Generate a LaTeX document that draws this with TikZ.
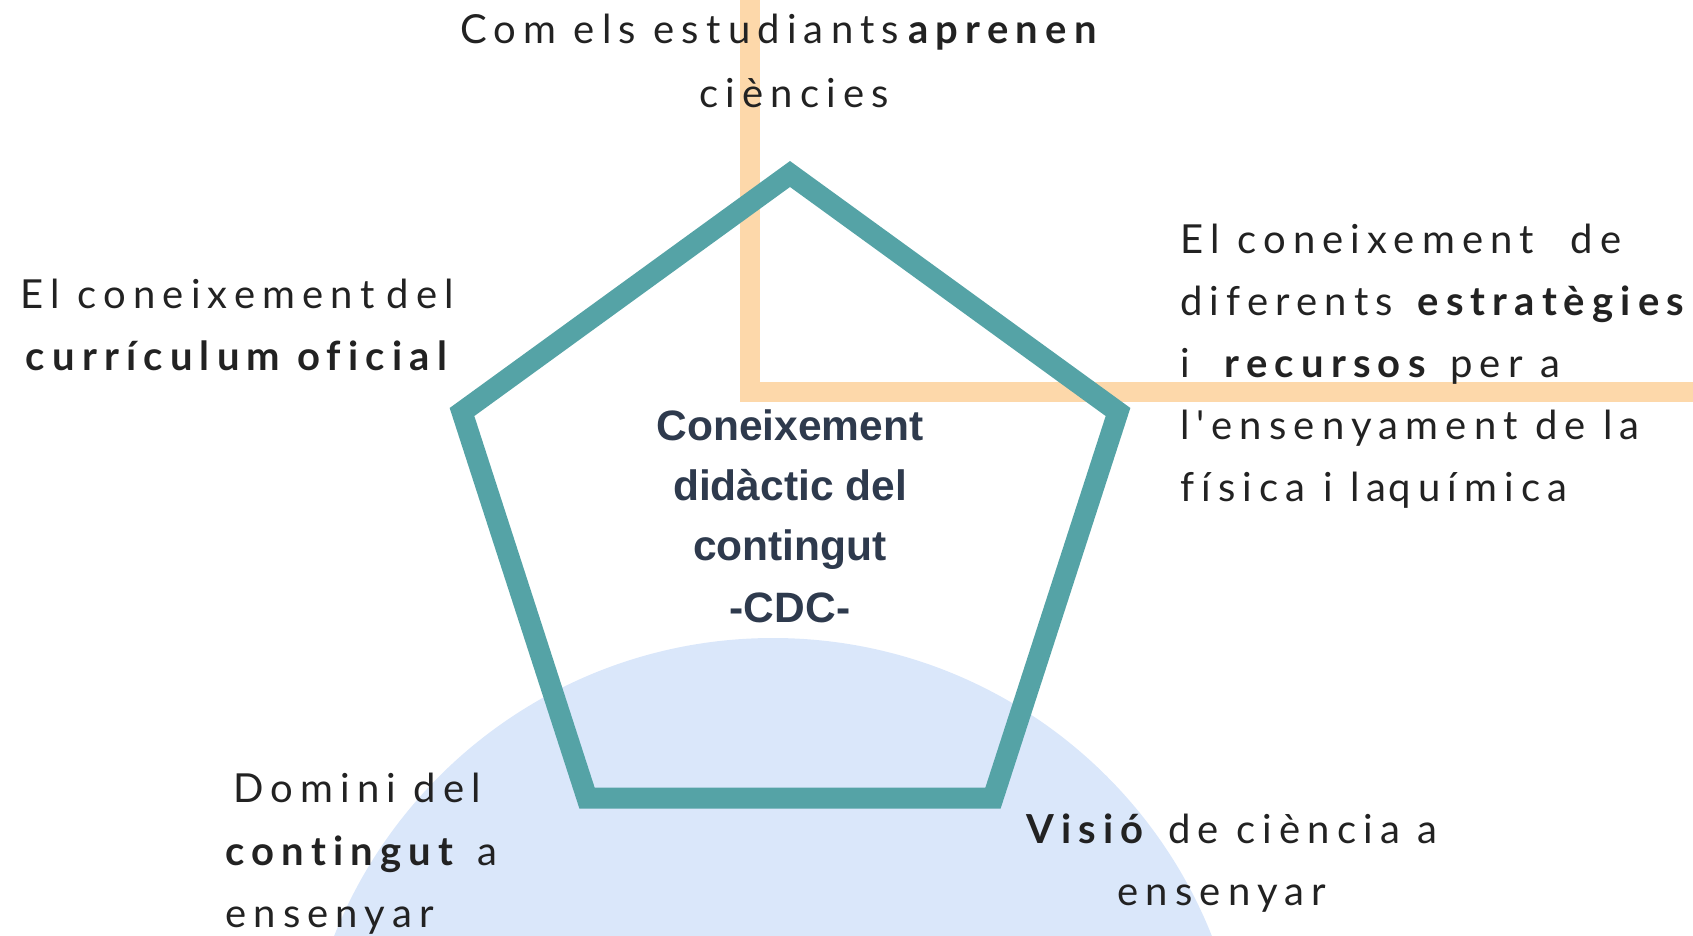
\documentclass[tikz,border=0pt]{standalone}
\usepackage{fontspec}
\newfontfamily\lato{Lato}[LetterSpace=18, Ligatures=CommonOff]
\newfontfamily\cdcfont{Liberation Sans}
\definecolor{tealc}{RGB}{85,163,166}
\definecolor{orangec}{RGB}{253,216,170}
\definecolor{bluec}{RGB}{218,231,250}
\definecolor{txtc}{RGB}{34,34,34}
\definecolor{navyc}{RGB}{46,58,77}
\begin{document}
\begin{tikzpicture}[x=1pt,y=-1pt,
  lbl/.style={inner sep=0pt, text=txtc, font=\lato\fontsize{40}{48}\selectfont},
  ctr/.style={inner sep=0pt, text=navyc, font=\cdcfont\bfseries\fontsize{42.5}{50}\selectfont},
  penta/.style={draw=tealc, line width=21pt, line join=miter},
  axis/.style={draw=orangec, line width=20pt, line join=miter}]
\useasboundingbox (0,0) rectangle (1693,935);
% blue disc
\fill[bluec] (773,1110) circle (472);
% orange axes
\coordinate (oTop) at (750,-20);
\coordinate (oCorner) at (750,392);
\coordinate (oRight) at (1713,392);
\draw[axis] (oTop) -- (oCorner) -- (oRight);
% pentagon
\coordinate (pT) at (790,174);
\coordinate (pR) at (1118,412);
\coordinate (pBR) at (993,798);
\coordinate (pBL) at (587,798);
\coordinate (pL) at (462,412);
\draw[penta] (pT) -- (pR) -- (pBR) -- (pBL) -- (pL) -- cycle;
% centre text
\node[ctr, anchor=base] (c1) at (790,440) {Coneixement};
\node[ctr, anchor=base] (c2) at (790,500) {didàctic del};
\node[ctr, anchor=base] (c3) at (790,560) {contingut};
\node[ctr, anchor=base] (c4) at (790,622) {-CDC-};
% top
\node[lbl, anchor=base] (t1) at (782,43) {Com els estudiants\hspace{2pt}\textbf{aprenen}};
\node[lbl, anchor=base] (t2) at (794,107) {ciències};
% left
\node[lbl, anchor=base] (l1) at (237,308) {El coneixement\hspace{12pt}del};
\node[lbl, anchor=base] (l2) at (240,370) {\textbf{currículum oficial}};
% right
\node[lbl, anchor=base west] (r1) at (1180,253) {El coneixement\hspace{19pt} de};
\node[lbl, anchor=base west] (r2) at (1180,315) {diferents \textbf{estratègies}};
\node[lbl, anchor=base west] (r3) at (1180,377) {i \ \textbf{recursos} per a};
\node[lbl, anchor=base west] (r4) at (1180,439) {l'ensenyament de la};
\node[lbl, anchor=base west] (r5) at (1180,501) {física i la\hspace{2pt}química};
% bottom left
\node[lbl, anchor=base west] (b1) at (233,802) {Domini del};
\node[lbl, anchor=base west] (b2) at (225,865) {\textbf{contingut} a};
\node[lbl, anchor=base west] (b3) at (225,927) {ensenyar};
% bottom right
\node[lbl, anchor=base] (v1) at (1232,843) {\textbf{Visió} de ciència a};
\node[lbl, anchor=base] (v2) at (1222,905) {ensenyar};
\end{tikzpicture}
\end{document}
